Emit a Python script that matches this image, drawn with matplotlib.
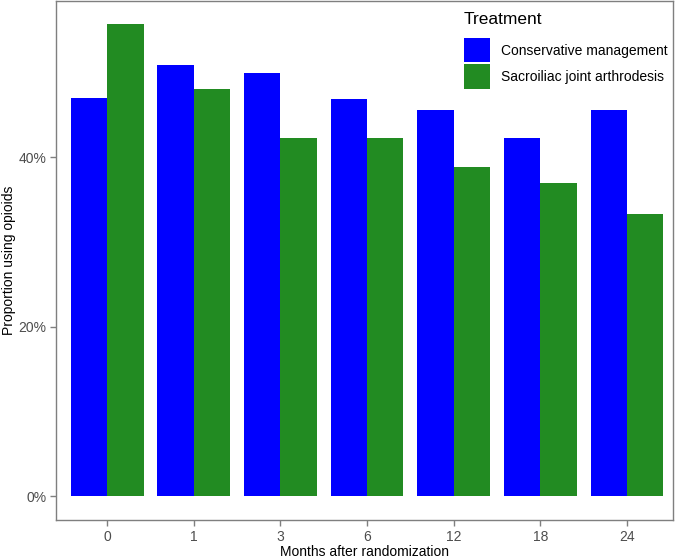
import matplotlib
matplotlib.use('Agg')
import matplotlib.pyplot as plt
from matplotlib.patches import Patch
from matplotlib.ticker import FuncFormatter
import numpy as np

months = ['0', '1', '3', '6', '12', '18', '24']
conservative = [47.0, 50.9, 49.9, 46.9, 45.6, 42.2, 45.6]
arthrodesis = [55.7, 48.0, 42.3, 42.3, 38.8, 36.9, 33.3]
groups = ['Conservative management', 'Sacroiliac joint arthrodesis']
colors = ['#0000FF', '#228B22']

plt.rcParams['font.family'] = ['Liberation Sans', 'DejaVu Sans']

fig = plt.figure(figsize=(6.8, 5.6), dpi=100)
ax = fig.add_axes([56/680, 40/560, 617/680, 519/560])

x = np.arange(len(months))
w = 0.42
ax.bar(x - w/2, conservative, width=w, color=colors[0], edgecolor='none')
ax.bar(x + w/2, arthrodesis, width=w, color=colors[1], edgecolor='none')

ax.set_xlim(-0.59, 6.53)
ax.set_ylim(-2.78, 58.4)
ax.set_xticks(x)
ax.set_xticklabels(months)
ax.set_yticks([0, 20, 40])
ax.yaxis.set_major_formatter(FuncFormatter(lambda v, p: '%d%%' % v))
ax.tick_params(colors='#7F7F7F', labelcolor='#4D4D4D', labelsize=10, length=4, width=1, pad=3)
for s in ax.spines.values():
    s.set_color('#7F7F7F')
    s.set_linewidth(1)

ax.set_xlabel('Months after randomization', fontsize=10)
ax.set_ylabel('Proportion using opioids', fontsize=10)
ax.xaxis.set_label_coords(364.5/680, 1 - 545/560, transform=fig.transFigure)
ax.yaxis.set_label_coords(16/680, 299.5/560, transform=fig.transFigure)

handles = [Patch(facecolor=c, edgecolor='none') for c in colors]
leg = ax.legend(handles, groups, title='Treatment', loc='upper left',
                bbox_to_anchor=(464/680, 1 - 12/560), bbox_transform=fig.transFigure,
                frameon=False, fontsize=10, title_fontsize=12.5,
                handlelength=1.85, handleheight=2.3, labelspacing=0.15,
                handletextpad=0.8, borderpad=0, borderaxespad=0)
leg._legend_box.align = 'left'
leg._legend_box.sep = 8

fig.savefig('out.png', dpi=100)
